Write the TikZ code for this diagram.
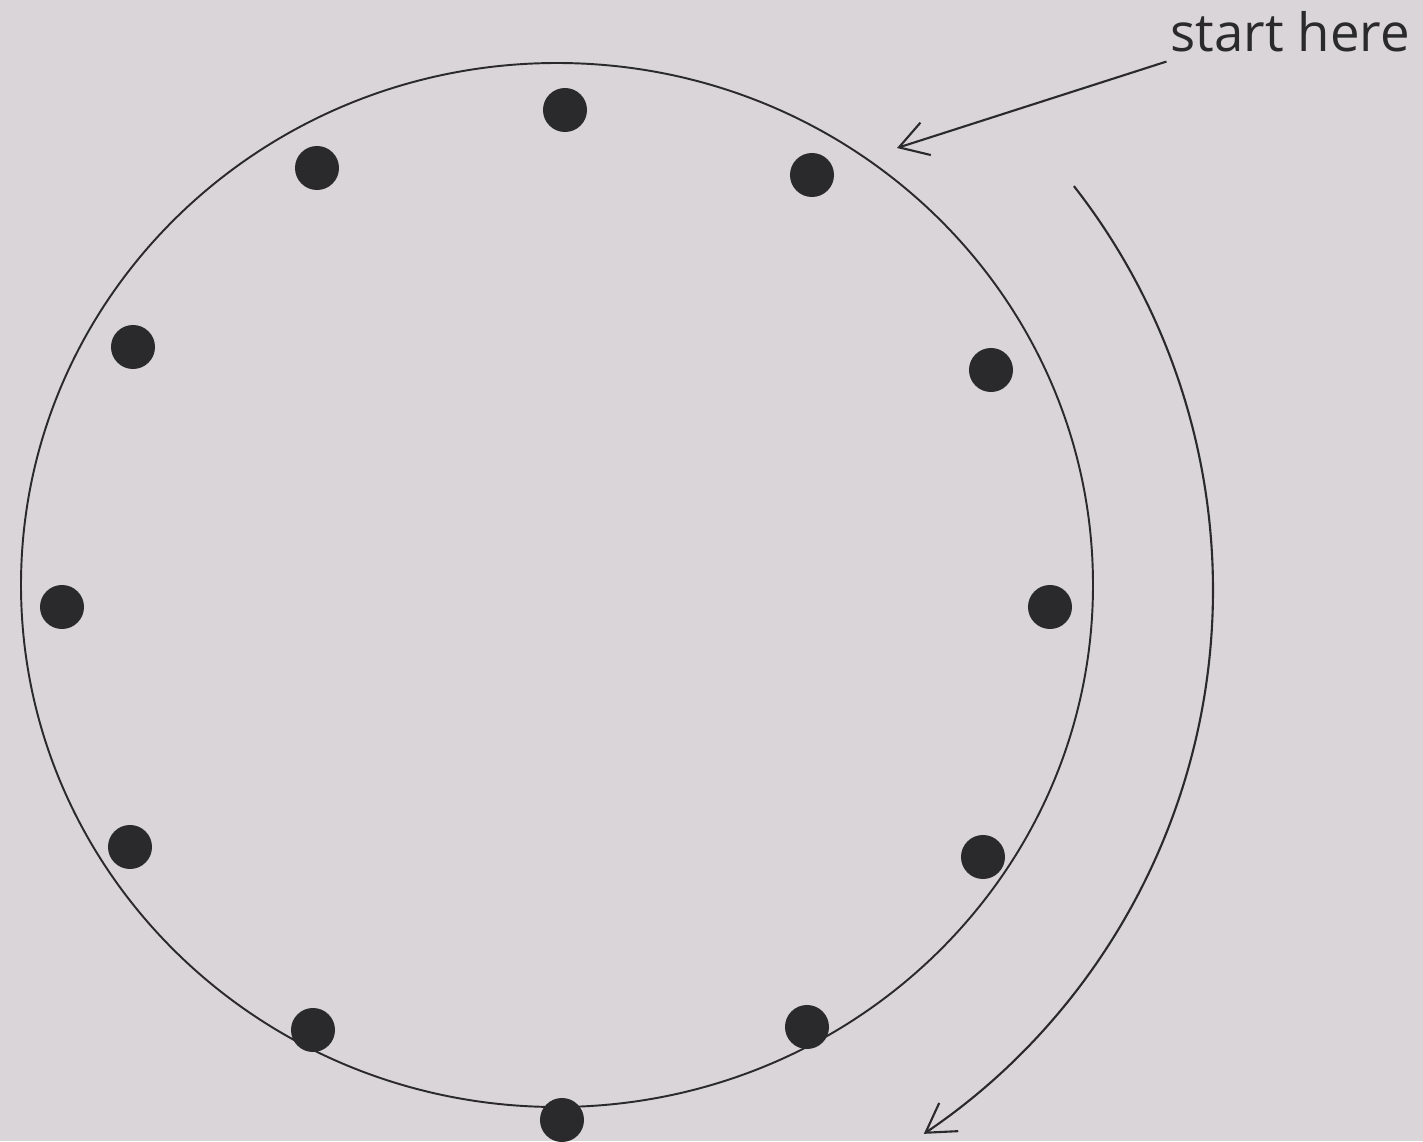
\documentclass[tikz,border=0pt]{standalone}
\usepackage{fontspec}
\usepackage{xcolor}
\usepackage{tikz}
\usetikzlibrary{arrows.meta}
\newfontfamily\labelfont{Open Sans}
\definecolor{PaperGrey}{HTML}{D9D5D9}
\definecolor{InkDark}{HTML}{2A2A2C}

\begin{document}
\begin{tikzpicture}[
  x=0.01cm, y=0.01cm,
  every node/.style={font=\labelfont\fontsize{15}{18}\selectfont},
  hole/.style={circle, fill=InkDark, draw=none, inner sep=0pt,
               minimum size=0.44cm},
  rim/.style={draw=InkDark, line width=0.55pt},
  arr/.style={-{Straight Barb[length=2.8mm,width=3.4mm]}, line width=0.6pt, InkDark},
]

  % Paper
  \fill[PaperGrey] (0,0) rectangle (1423,1141);
  \useasboundingbox (0,0) rectangle (1423,1141);

  % Outline
  \draw[rim] (557,556) ellipse [x radius=536, y radius=522];

  % Holes
  \foreach \x/\y [count=\i] in {565/1031, 812/966, 991/771, 1050/534,
                                983/284, 807/114, 562/21, 313/111,
                                130/294, 62/534, 133/794, 317/973}
    \node[hole] (d\i) at (\x,\y) {};

  % Label
  \node[text=InkDark, anchor=base west, inner sep=0pt] (start) at (1170,1090) {start here};
  \coordinate (tip) at (897,993);
  \draw[arr] ([xshift=-1pt,yshift=-3pt]start.base west) -- (tip);

  % Direction
  \draw[arr] (557,551) ++(38:656) arc[start angle=38, end angle=-56, radius=656];

\end{tikzpicture}
\end{document}
